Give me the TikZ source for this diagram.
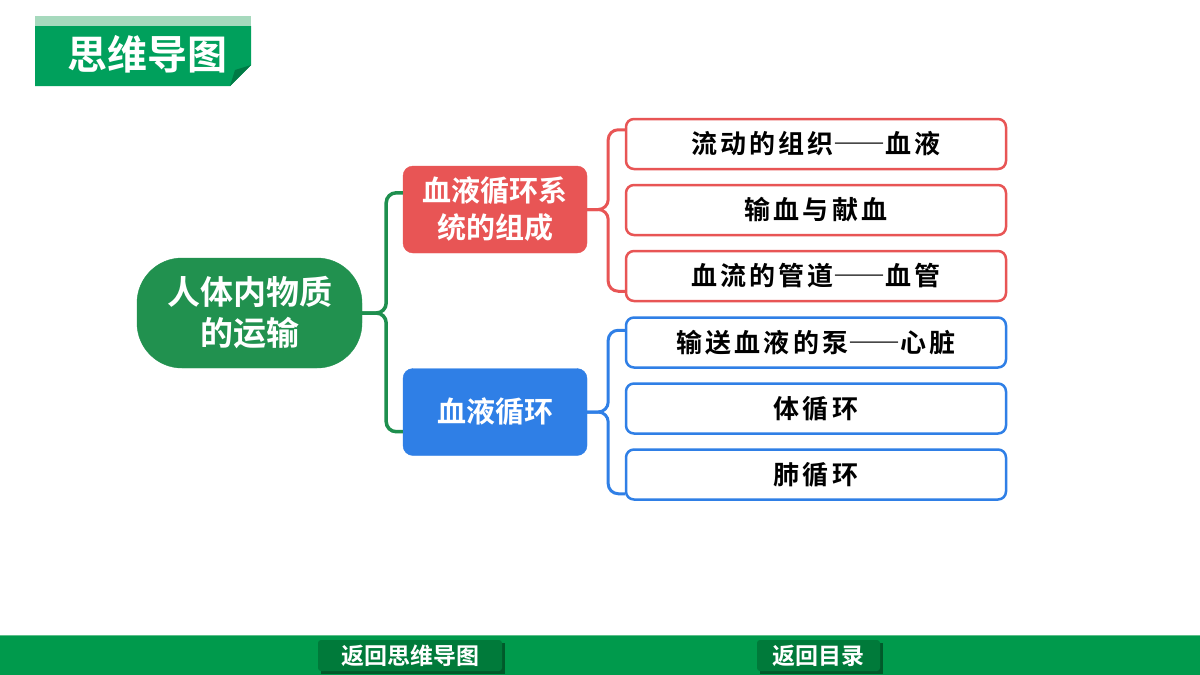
\documentclass[tikz,border=0pt]{standalone}
\usepackage{fontspec}
\newfontfamily\cjk{Noto Sans CJK SC}[BoldFont={Noto Sans CJK SC Bold}]
\newfontfamily\cjkleaf{Noto Sans CJK SC}[BoldFont={Noto Sans CJK SC Bold},LetterSpace=12]
\newfontfamily\cjkdash{Noto Sans CJK SC}[BoldFont={Noto Sans CJK SC Bold},RawFeature=+fwid]
\newcommand\mydash{{\cjkdash\bfseries\fontsize{26}{30}\selectfont ——}}
\usetikzlibrary{calc}
\definecolor{titlegreen}{HTML}{00A05C}
\definecolor{titlelight}{HTML}{A6D9BD}
\definecolor{folddark}{HTML}{007A45}
\definecolor{bargreen}{HTML}{009A4C}
\definecolor{barline}{HTML}{5CBF8A}
\definecolor{btngreen}{HTML}{007A3A}
\definecolor{btnshadow}{HTML}{005A2A}
\definecolor{rootgreen}{HTML}{21914F}
\definecolor{nodered}{HTML}{E85555}
\definecolor{nodeblue}{HTML}{2F7FE6}
\definecolor{bracegreen}{HTML}{1E8F4E}
\tikzset{
  rootbox/.style={fill=rootgreen, draw=rootgreen, rounded corners=45pt, minimum width=225pt, minimum height=110pt, align=center, text=white, font=\cjk\bfseries\fontsize{33}{41}\selectfont, inner sep=0pt},
  midbox/.style={fill=#1, draw=#1, rounded corners=10pt, minimum width=184pt, minimum height=87pt, align=center, text=white, font=\cjk\bfseries\fontsize{29}{37}\selectfont, inner sep=0pt},
  leafbox/.style={fill=white, draw=#1, line width=2.5pt, rounded corners=8pt, minimum width=380pt, minimum height=50pt, text=black, font=\cjkleaf\bfseries\fontsize{26}{30}\selectfont, inner sep=0pt},
  bracegrn/.style={draw=bracegreen, line width=3.5pt, rounded corners=10pt},
  bracecol/.style={draw=#1, line width=3pt, rounded corners=10pt},
  btn/.style={fill=btngreen, rounded corners=3pt, text=white, font=\cjk\bfseries\fontsize{23}{28}\selectfont, inner sep=0pt, minimum height=31pt},
}
\begin{document}
\begin{tikzpicture}[x=1pt,y=-1pt]
\useasboundingbox (0,0) rectangle (1200,675);
\fill[white] (0,0) rectangle (1200,675);
% title banner
\fill[titlelight] (35,16) rectangle (251,26);
\fill[titlegreen] (35,26) -- (251,26) -- (251,65) -- (230,86) -- (35,86) -- cycle;
\fill[folddark] (230,86) -- (251,65) -- (235,70) -- cycle;
\node[text=white, font=\cjk\bfseries\fontsize{40}{42}\selectfont, inner sep=0pt] (title) at (147,54) {思维导图};
% bottom bar
\fill[bargreen] (0,635) rectangle (1200,675);
\draw[barline, line width=1pt] (0,635.5) -- (1200,635.5);
\fill[btnshadow] (321,643) rectangle (505,674);
\node[btn, minimum width=184pt] (back1) at (410,655.5) {返回思维导图};
\fill[btnshadow] (760,643) rectangle (883,674);
\node[btn, minimum width=123pt] (back2) at (818.5,655.5) {返回目录};
% main nodes
\node[rootbox] (root) at (249.5,313) {人体内物质\\的运输};
\node[midbox=nodered] (red) at (495,209.5) {血液循环系\\统的组成};
\node[midbox=nodeblue] (blue) at (495,412) {血液循环};
% leaves
\node[leafbox=nodered] (r1) at (816,144) {流动的组织\mydash 血液};
\node[leafbox=nodered] (r2) at (816,210) {输血与献血};
\node[leafbox=nodered] (r3) at (816,276) {血流的管道\mydash 血管};
\node[leafbox=nodeblue] (b1) at (816,342.5) {输送血液的泵\mydash 心脏};
\node[leafbox=nodeblue] (b2) at (816,408.5) {体循环};
\node[leafbox=nodeblue] (b3) at (816,474.5) {肺循环};
% braces
\draw[bracegrn] ($(red.north west)+(0,27)$) -| ($(root.east)+(24,0)$) -- (root.east);
\draw[bracegrn] ($(blue.south west)+(0,-24)$) -| ($(root.east)+(24,0)$) -- (root.east);
\draw[bracecol=nodered] ($(r1.north west)+(0,12)$) -| ($(red.east)+(21,0)$) -- (red.east);
\draw[bracecol=nodered] ($(r3.south west)+(0,-11)$) -| ($(red.east)+(21,0)$) -- (red.east);
\draw[bracecol=nodeblue] ($(b1.north west)+(0,14)$) -| ($(blue.east)+(21,0)$) -- (blue.east);
\draw[bracecol=nodeblue] ($(b3.south west)+(0,-7)$) -| ($(blue.east)+(21,0)$) -- (blue.east);
\end{tikzpicture}
\end{document}
